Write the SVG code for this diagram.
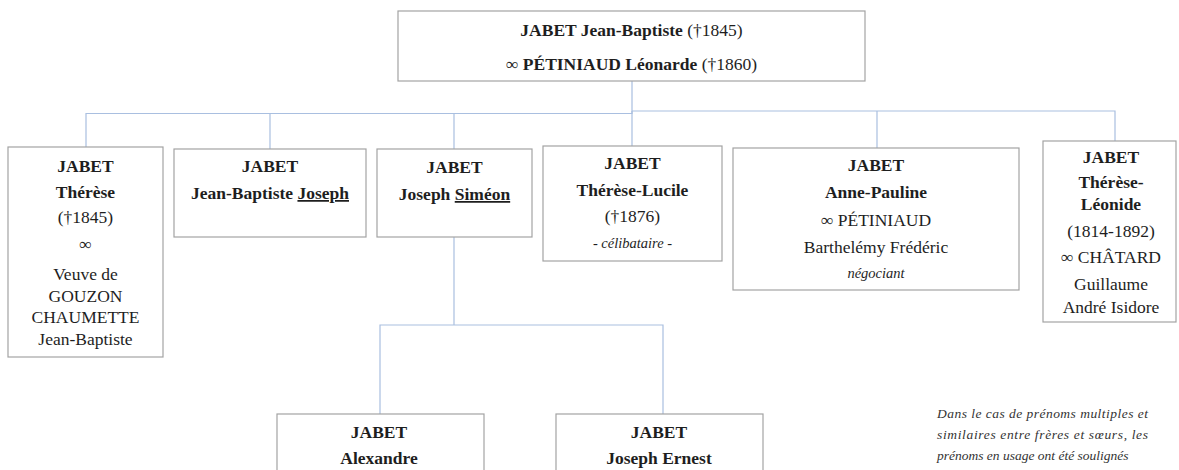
<svg xmlns="http://www.w3.org/2000/svg" width="1179" height="470" viewBox="0 0 1179 470">
<style>
.box{fill:#fff;stroke:#a3a3a3;stroke-width:1.2}
.con{fill:none;stroke:#a9bfe0;stroke-width:1.2}
text{font-family:"Liberation Serif","DejaVu Serif",serif;fill:#1e1e1e;text-anchor:middle;font-size:17.5px}
.b{font-weight:bold}
.i{font-style:italic;font-size:14.5px}
.u{text-decoration:underline}
.note{font-size:13.5px;font-style:italic;text-anchor:start;fill:#333}
</style>
<rect width="1179" height="470" fill="#fff"/>
<g id="connectors">
<polyline class="con" points="632,81 632,113.5 86,113.5 86,147"/>
<line class="con" x1="270" y1="114" x2="270" y2="149"/>
<line class="con" x1="454" y1="114" x2="454" y2="149"/>
<polyline class="con" points="632,111 1115,111 1115,141"/>
<line class="con" x1="632" y1="111" x2="632" y2="146"/>
<line class="con" x1="877" y1="111" x2="877" y2="148"/>
<polyline class="con" points="454,237 454,325"/>
<polyline class="con" points="380,414 380,325 663,325 663,414"/>
</g>
<g id="n-root">
<rect class="box" x="398" y="11" width="467" height="70"/>
<text x="631.5" y="36"><tspan class="b">JABET Jean-Baptiste</tspan> (†1845)</text>
<text x="631.5" y="70">∞ <tspan class="b">PÉTINIAUD Léonarde</tspan> (†1860)</text>
</g>
<g id="n-therese">
<rect class="box" x="8" y="147" width="155" height="210"/>
<text x="85.5" y="172" class="b">JABET</text>
<text x="85.5" y="198" class="b">Thérèse</text>
<text x="85.5" y="223">(†1845)</text>
<text x="85.5" y="250">∞</text>
<text x="85.5" y="280">Veuve de</text>
<text x="85.5" y="302">GOUZON</text>
<text x="85.5" y="323">CHAUMETTE</text>
<text x="85.5" y="345">Jean-Baptiste</text>
</g>
<g id="n-jbjoseph">
<rect class="box" x="174" y="149" width="192" height="88"/>
<text x="270" y="172" class="b">JABET</text>
<text x="270" y="199" class="b">Jean-Baptiste <tspan class="u">Joseph</tspan></text>
</g>
<g id="n-josephsimeon">
<rect class="box" x="377" y="149" width="155" height="88"/>
<text x="454.5" y="173" class="b">JABET</text>
<text x="454.5" y="200" class="b">Joseph <tspan class="u">Siméon</tspan></text>
</g>
<g id="n-thereselucile">
<rect class="box" x="543" y="146" width="179" height="115"/>
<text x="632.5" y="169" class="b">JABET</text>
<text x="632.5" y="196" class="b">Thérèse-Lucile</text>
<text x="632.5" y="222">(†1876)</text>
<text x="632.5" y="248" class="i">- célibataire -</text>
</g>
<g id="n-annepauline">
<rect class="box" x="733" y="148" width="286" height="142"/>
<text x="876" y="171" class="b">JABET</text>
<text x="876" y="198" class="b">Anne-Pauline</text>
<text x="876" y="226">∞ PÉTINIAUD</text>
<text x="876" y="253">Barthelémy Frédéric</text>
<text x="876" y="278" class="i">négociant</text>
</g>
<g id="n-thereseleonide">
<rect class="box" x="1043" y="141" width="133" height="181"/>
<text x="1111" y="163" class="b">JABET</text>
<text x="1111" y="188" class="b">Thérèse-</text>
<text x="1111" y="210" class="b">Léonide</text>
<text x="1111" y="237">(1814-1892)</text>
<text x="1111" y="263">∞ CHÂTARD</text>
<text x="1111" y="290">Guillaume</text>
<text x="1111" y="313">André Isidore</text>
</g>
<g id="n-alexandre">
<rect class="box" x="277" y="414" width="207" height="70"/>
<text x="379" y="438" class="b">JABET</text>
<text x="379" y="464" class="b">Alexandre</text>
</g>
<g id="n-josepheernest">
<rect class="box" x="556" y="414" width="207" height="70"/>
<text x="659" y="438" class="b">JABET</text>
<text x="659" y="464" class="b">Joseph Ernest</text>
</g>
<g id="note">
<text class="note" x="937" y="418" textLength="211" lengthAdjust="spacing">Dans le cas de prénoms multiples et</text>
<text class="note" x="937" y="439" textLength="211" lengthAdjust="spacing">similaires entre frères et sœurs, les</text>
<text class="note" x="937" y="460">prénoms en usage ont été soulignés</text>
</g>
</svg>
